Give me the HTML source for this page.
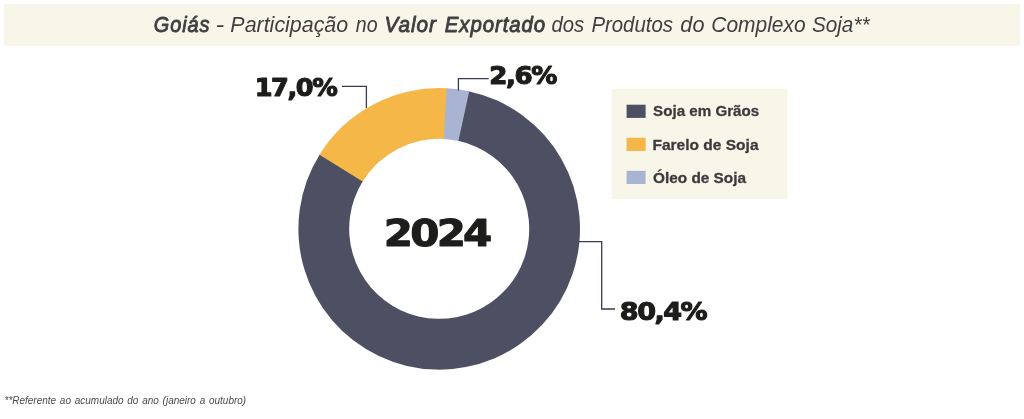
<!DOCTYPE html>
<html lang="pt-BR"><head><meta charset="utf-8"><title>Goiás - Complexo Soja</title>
<style>html,body{margin:0;padding:0;background:#fff}svg{display:block}</style></head>
<body><svg width="1024" height="419" viewBox="0 0 1024 419">
<rect width="1024" height="419" fill="#fff"/>
<rect x="4" y="4" width="1016" height="42" fill="#f8f5e9"/>
<text transform="translate(153.80 32.00) scale(0.8896 1)" font-family="'Liberation Sans', sans-serif" font-size="22.40" font-style="italic" letter-spacing="1.01" fill="#3f3f41" stroke="#3f3f41" stroke-width="0.90" stroke-linejoin="round">Goiás</text>
<text transform="translate(215.59 32.00) scale(1.1676 1)" font-family="'Liberation Sans', sans-serif" font-size="22.40" font-style="italic" fill="#3f3f41">-</text>
<text transform="translate(230.36 32.00) scale(0.9560 1)" font-family="'Liberation Sans', sans-serif" font-size="22.40" font-style="italic" fill="#3f3f41">Participação</text>
<text transform="translate(355.86 32.00) scale(0.8739 1)" font-family="'Liberation Sans', sans-serif" font-size="22.40" font-style="italic" fill="#3f3f41">no</text>
<text transform="translate(384.55 32.00) scale(0.9255 1)" font-family="'Liberation Sans', sans-serif" font-size="22.40" font-style="italic" letter-spacing="1.01" fill="#3f3f41" stroke="#3f3f41" stroke-width="0.90" stroke-linejoin="round">Valor</text>
<text transform="translate(444.80 32.00) scale(0.9111 1)" font-family="'Liberation Sans', sans-serif" font-size="22.40" font-style="italic" letter-spacing="1.01" fill="#3f3f41" stroke="#3f3f41" stroke-width="0.90" stroke-linejoin="round">Exportado</text>
<text transform="translate(551.39 32.00) scale(0.9086 1)" font-family="'Liberation Sans', sans-serif" font-size="22.40" font-style="italic" fill="#3f3f41">dos</text>
<text transform="translate(591.39 32.00) scale(0.9098 1)" font-family="'Liberation Sans', sans-serif" font-size="22.40" font-style="italic" fill="#3f3f41">Produtos</text>
<text transform="translate(680.35 32.00) scale(0.9673 1)" font-family="'Liberation Sans', sans-serif" font-size="22.40" font-style="italic" fill="#3f3f41">do</text>
<text transform="translate(711.24 32.00) scale(0.9364 1)" font-family="'Liberation Sans', sans-serif" font-size="22.40" font-style="italic" fill="#3f3f41">Complexo</text>
<text transform="translate(811.88 32.00) scale(0.9267 1)" font-family="'Liberation Sans', sans-serif" font-size="22.40" font-style="italic" fill="#3f3f41">Soja**</text>
<path d="M468.50 91.13A140.8 140.8 0 1 1 319.86 154.13L362.92 181.09A90.0 90.0 0 1 0 457.93 140.82Z" fill="#4d5062"/>
<path d="M319.47 154.76A140.8 140.8 0 0 1 447.43 88.29L444.46 139.00A90.0 90.0 0 0 0 362.67 181.49Z" fill="#f4b748"/>
<path d="M446.45 88.24A140.8 140.8 0 0 1 469.22 91.29L458.39 140.92A90.0 90.0 0 0 0 443.83 138.97Z" fill="#a9b4d2"/>
<g fill="none" stroke="#383b52" stroke-width="1.3">
<path d="M341.9 86.3H366.4V108"/>
<path d="M488.7 78.7H458.4V90.5"/>
<path d="M579 241.7H601.7V309H615"/>
</g>
<text transform="translate(254.70 95.80) scale(1.0249 1)" font-family="'DejaVu Sans', sans-serif" font-size="24.94" font-weight="700" letter-spacing="-1.37" fill="#1d1d1b" stroke="#1d1d1b" stroke-width="1.12" stroke-linejoin="round">17,0%</text>
<text transform="translate(489.33 83.80) scale(1.0430 1)" font-family="'DejaVu Sans', sans-serif" font-size="25.06" font-weight="700" letter-spacing="-1.38" fill="#1d1d1b" stroke="#1d1d1b" stroke-width="1.13" stroke-linejoin="round">2,6%</text>
<text transform="translate(619.82 319.80) scale(1.0741 1)" font-family="'DejaVu Sans', sans-serif" font-size="25.19" font-weight="700" letter-spacing="-1.39" fill="#1d1d1b" stroke="#1d1d1b" stroke-width="1.13" stroke-linejoin="round">80,4%</text>
<text transform="translate(383.77 245.90) scale(1.1142 1)" font-family="'DejaVu Sans', sans-serif" font-size="37.63" font-weight="700" letter-spacing="-2.45" fill="#1d1d1b" stroke="#1d1d1b" stroke-width="1.05" stroke-linejoin="round">2024</text>
<rect x="611.5" y="88.7" width="175.6" height="110.1" fill="#f8f5e9"/>
<rect x="626.6" y="104.7" width="19" height="13.2" fill="#4d5062"/>
<text transform="translate(653.10 116.10) scale(1.0408 1)" font-family="'Liberation Sans', sans-serif" font-size="14.57" font-weight="700" fill="#3c3c3e" stroke="#3c3c3e" stroke-width="0.29" stroke-linejoin="round">Soja em Grãos</text>
<rect x="626.6" y="137.75" width="19" height="13.2" fill="#f4b748"/>
<text transform="translate(652.47 149.60) scale(1.0653 1)" font-family="'Liberation Sans', sans-serif" font-size="14.57" font-weight="700" fill="#3c3c3e" stroke="#3c3c3e" stroke-width="0.29" stroke-linejoin="round">Farelo de Soja</text>
<rect x="626.6" y="170.8" width="19" height="13.2" fill="#a9b4d2"/>
<text transform="translate(652.94 182.90) scale(1.0567 1)" font-family="'Liberation Sans', sans-serif" font-size="14.57" font-weight="700" fill="#3c3c3e" stroke="#3c3c3e" stroke-width="0.29" stroke-linejoin="round">Óleo de Soja</text>
<text transform="translate(4.50 404.30) scale(0.9988 1)" font-family="'Liberation Sans', sans-serif" font-size="10.00" font-style="italic" word-spacing="1.00" fill="#4a4a4a">**Referente ao acumulado do ano (janeiro a outubro)</text>
</svg></body></html>
